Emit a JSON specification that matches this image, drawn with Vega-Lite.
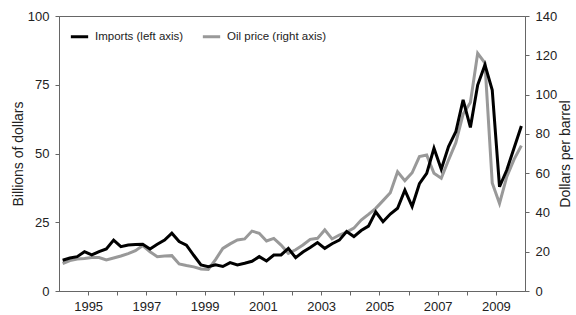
{
  "$schema": "https://vega.github.io/schema/vega-lite/v6.json",
  "autosize": {"type": "none"},
  "padding": {"left": 59, "top": 16, "right": 51, "bottom": 24},
  "width": 466,
  "height": 275,
  "background": "white",
  "config": {
    "font": "Liberation Sans",
    "view": {"stroke": "#666", "strokeWidth": 1},
    "axis": {
      "labelFont": "Liberation Sans",
      "titleFont": "Liberation Sans",
      "labelFontSize": 13,
      "titleFontSize": 14,
      "titleFontWeight": "normal",
      "labelColor": "#222",
      "titleColor": "#222",
      "domainColor": "#666",
      "tickColor": "#666",
      "tickSize": 4,
      "grid": false
    },
    "legend": {"labelFont": "Liberation Sans", "labelFontSize": 11.5, "labelColor": "#222"}
  },
  "data": {
    "values": [
      {"t":1994.125,"i":11.2,"o":14.0},{"t":1994.375,"i":12.0,"o":15.5},{"t":1994.625,"i":12.5,"o":16.3},{"t":1994.875,"i":14.3,"o":16.6},
      {"t":1995.125,"i":13.1,"o":17.0},{"t":1995.375,"i":14.3,"o":17.0},{"t":1995.625,"i":15.3,"o":15.8},{"t":1995.875,"i":18.5,"o":16.8},
      {"t":1996.125,"i":16.1,"o":17.8},{"t":1996.375,"i":16.7,"o":19.0},{"t":1996.625,"i":16.9,"o":20.5},{"t":1996.875,"i":17.0,"o":23.1},
      {"t":1997.125,"i":15.3,"o":20.0},{"t":1997.375,"i":17.0,"o":17.5},{"t":1997.625,"i":18.5,"o":17.8},{"t":1997.875,"i":21.0,"o":18.0},
      {"t":1998.125,"i":18.0,"o":13.8},{"t":1998.375,"i":16.7,"o":13.0},{"t":1998.625,"i":13.0,"o":12.3},{"t":1998.875,"i":9.5,"o":11.2},
      {"t":1999.125,"i":8.8,"o":11.0},{"t":1999.375,"i":9.5,"o":16.0},{"t":1999.625,"i":8.9,"o":21.7},{"t":1999.875,"i":10.3,"o":24.0},
      {"t":2000.125,"i":9.5,"o":26.0},{"t":2000.375,"i":10.1,"o":26.5},{"t":2000.625,"i":10.8,"o":30.5},{"t":2000.875,"i":12.5,"o":29.4},
      {"t":2001.125,"i":10.9,"o":25.5},{"t":2001.375,"i":13.1,"o":26.8},{"t":2001.625,"i":13.1,"o":23.4},{"t":2001.875,"i":15.5,"o":19.2},
      {"t":2002.125,"i":12.1,"o":21.0},{"t":2002.375,"i":14.2,"o":23.4},{"t":2002.625,"i":15.8,"o":26.3},{"t":2002.875,"i":17.6,"o":26.8},
      {"t":2003.125,"i":15.5,"o":31.1},{"t":2003.375,"i":17.2,"o":26.5},{"t":2003.625,"i":18.5,"o":28.5},{"t":2003.875,"i":21.6,"o":30.0},
      {"t":2004.125,"i":19.8,"o":32.0},{"t":2004.375,"i":22.0,"o":36.1},{"t":2004.625,"i":23.6,"o":39.0},{"t":2004.875,"i":28.8,"o":42.1},
      {"t":2005.125,"i":25.2,"o":46.0},{"t":2005.375,"i":28.0,"o":50.0},{"t":2005.625,"i":30.1,"o":60.7},{"t":2005.875,"i":36.7,"o":56.2},
      {"t":2006.125,"i":30.7,"o":60.2},{"t":2006.375,"i":39.0,"o":68.4},{"t":2006.625,"i":42.8,"o":69.2},{"t":2006.875,"i":51.9,"o":59.9},
      {"t":2007.125,"i":44.3,"o":57.4},{"t":2007.375,"i":52.5,"o":66.7},{"t":2007.625,"i":57.9,"o":75.5},{"t":2007.875,"i":69.5,"o":90.0},
      {"t":2008.125,"i":59.5,"o":96.0},{"t":2008.375,"i":74.9,"o":121.0},{"t":2008.625,"i":82.2,"o":116.0},{"t":2008.875,"i":73.1,"o":55.0},
      {"t":2009.125,"i":37.9,"o":44.6},{"t":2009.375,"i":44.0,"o":58.2},{"t":2009.625,"i":52.0,"o":67.0},{"t":2009.875,"i":60.0,"o":74.0}
    ]
  },
  "encoding": {
    "x": {
      "field": "t", "type": "quantitative",
      "scale": {"domain": [1994, 2010], "nice": false, "zero": false},
      "axis": {
        "title": null,
        "values": [1995,1996,1997,1998,1999,2000,2001,2002,2003,2004,2005,2006,2007,2008,2009],
        "labelExpr": "datum.value % 2 == 1 ? format(datum.value, 'd') : ''",
        "labelPadding": 5,
        "labelFlush": false,
        "labelOverlap": false
      }
    }
  },
  "layer": [
    {
      "transform": [{"calculate": "'Oil price (right axis)'", "as": "series"}],
      "mark": {"type": "line", "strokeWidth": 3, "strokeJoin": "miter"},
      "encoding": {
        "y": {
          "field": "o", "type": "quantitative",
          "scale": {"domain": [0, 140], "nice": false},
          "axis": {"orient": "right", "title": "Dollars per barrel", "values": [0,20,40,60,80,100,120,140], "titleAngle": 270, "titleX": 40, "titleY": 137.5, "titleAlign": "center", "titleBaseline": "middle", "labelPadding": 6}
        },
        "color": {
          "field": "series", "type": "nominal",
          "scale": {"domain": ["Imports (left axis)", "Oil price (right axis)"], "range": ["#000000", "#999999"]},
          "legend": {"title": null, "orient": "none", "legendX": 10, "legendY": 10, "direction": "horizontal", "symbolType": "stroke", "symbolStrokeWidth": 3, "symbolSize": 300, "columnPadding": 12, "labelOffset": 5}
        }
      }
    },
    {
      "transform": [{"calculate": "'Imports (left axis)'", "as": "series"}],
      "mark": {"type": "line", "strokeWidth": 3, "strokeJoin": "miter"},
      "encoding": {
        "y": {
          "field": "i", "type": "quantitative",
          "scale": {"domain": [0, 100], "nice": false},
          "axis": {"orient": "left", "title": "Billions of dollars", "values": [0,25,50,75,100], "titleAngle": 270, "titleX": -41, "titleY": 137.5, "titleAlign": "center", "titleBaseline": "middle", "labelPadding": 6}
        },
        "color": {"field": "series", "type": "nominal"}
      }
    }
  ],
  "resolve": {"scale": {"y": "independent", "color": "shared"}}
}
